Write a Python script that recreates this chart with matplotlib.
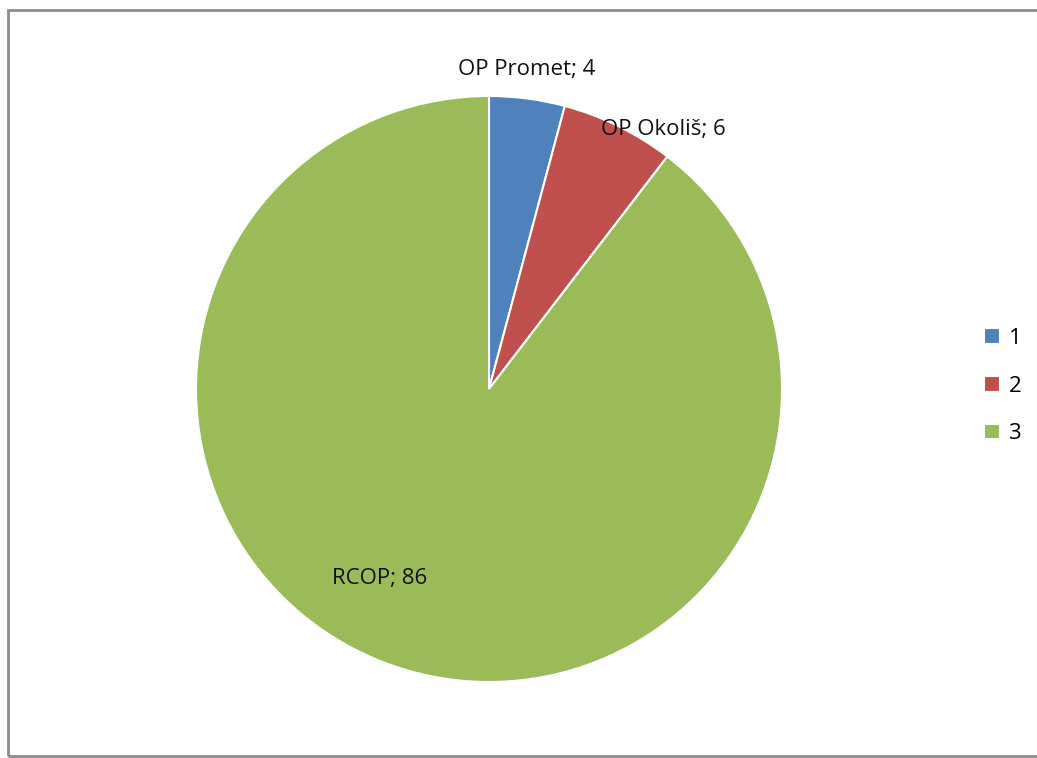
import matplotlib.pyplot as plt
import matplotlib.patches as ptc

labels = ["OP Promet", "OP Okoliš", "RCOP"]
values = [4, 6, 86]
legend_labels = ["1", "2", "3"]
colors = ["#4F81BD", "#C0504D", "#9BBB59"]

W, H = 1037, 758
fig = plt.figure(figsize=(W / 100, H / 100), dpi=100)

# pie axes placed so the pie sits where it does in the original
cx, cy, r = 489, 389, 293
ax = fig.add_axes([(cx - r) / W, (H - cy - r) / H, 2 * r / W, 2 * r / H])
wedges, _ = ax.pie(values, colors=colors, startangle=90, counterclock=False,
                   radius=1, wedgeprops=dict(edgecolor="white", linewidth=1.5))
ax.set_xlim(-1, 1)
ax.set_ylim(-1, 1)
ax.set_aspect("equal")
ax.axis("off")

# data labels, positions in pie coords
label_pos = [(0.13, 1.09), (0.594, 0.885), (-0.372, -0.648)]
for name, val, (x, y) in zip(labels, values, label_pos):
    ax.text(x, y, f"{name}; {val}", ha="center", va="center",
            fontsize=16, family="Open Sans", color="#111111")

fig.legend(wedges, legend_labels, loc="center left",
           bbox_to_anchor=(964 / W, (H - 386) / H), frameon=False,
           prop={"family": "Open Sans", "size": 16},
           handlelength=0.7, handleheight=0.7, handletextpad=0.4,
           labelspacing=1.2)

# chart border
fig.patches.append(ptc.Rectangle((8 / W, 2 / H), 1.2, (H - 12) / H,
                                 transform=fig.transFigure, fill=False,
                                 edgecolor="#8c8c8c", linewidth=2))

fig.savefig("out.png", dpi=100)
